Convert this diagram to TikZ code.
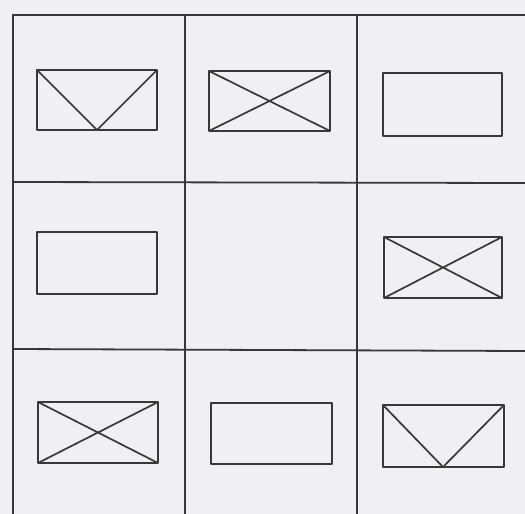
\documentclass[tikz,border=0pt]{standalone}
\begin{document}
\begin{tikzpicture}[x=1pt,y=-1pt,
  grid/.style={draw=black!78,line width=1.8pt},
  env/.style={draw=black!78,line width=1.7pt,line join=round}]
\definecolor{bg}{HTML}{F0EFF4}
\fill[bg] (0,0) rectangle (525,514);
\useasboundingbox (0,0) rectangle (525,514);
% grid
\draw[grid] (13,514) -- (13,15) -- (525,15);
\draw[grid] (185,15) -- (185,514);
\draw[grid] (357,15) -- (357,514);
\draw[grid] (13,182) -- (525,183);
\draw[grid] (13,349) -- (525,351);
% row 1
\draw[env] (37,70) rectangle (157,130);
\draw[env] (37,70) -- (97,130) -- (157,70);
\draw[env] (209,71) rectangle (330,131);
\draw[env] (209,71) -- (330,131) (209,131) -- (330,71);
\draw[env] (383,73) rectangle (502,136);
% row 2
\draw[env] (37,232) rectangle (157,294);
\draw[env] (384,237) rectangle (502,298);
\draw[env] (384,237) -- (502,298) (384,298) -- (502,237);
% row 3
\draw[env] (38,402) rectangle (158,463);
\draw[env] (38,402) -- (158,463) (38,463) -- (158,402);
\draw[env] (211,403) rectangle (332,464);
\draw[env] (383,405) rectangle (504,467);
\draw[env] (383,405) -- (443,467) -- (504,405);
\end{tikzpicture}
\end{document}
